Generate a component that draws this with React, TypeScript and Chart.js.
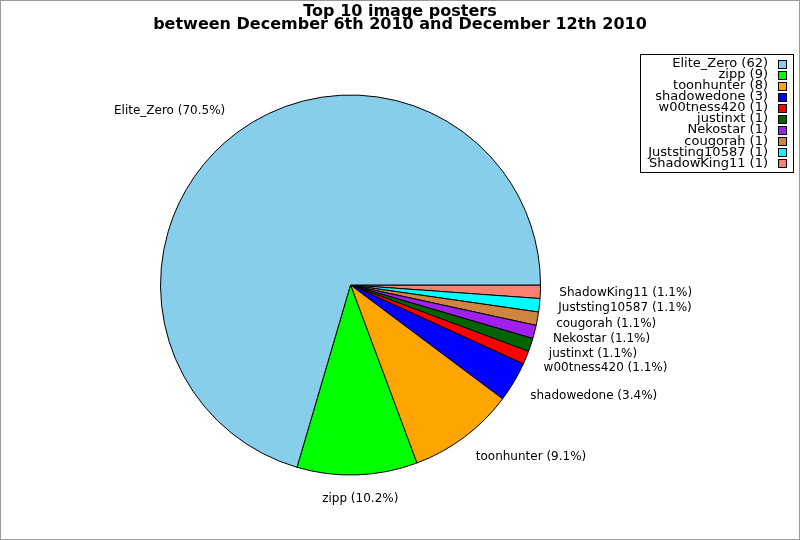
import { useEffect, useRef } from "react";
import { Chart, registerables } from "chart.js";

Chart.register(...registerables);

const TITLE_LINES = ["Top 10 image posters", "between December 6th 2010 and December 12th 2010"];
const posters = [
  "Elite_Zero",
  "zipp",
  "toonhunter",
  "shadowedone",
  "w00tness420",
  "justinxt",
  "Nekostar",
  "cougorah",
  "Juststing10587",
  "ShadowKing11",
];
const imageCounts = [62, 9, 8, 3, 1, 1, 1, 1, 1, 1];
const sliceColors = [
  "#87CEEB",
  "#00FF00",
  "#FFA500",
  "#0000FF",
  "#FF0000",
  "#006400",
  "#A020F0",
  "#CD853F",
  "#00FFFF",
  "#FA8072",
];

const FONT = '"DejaVu Sans", sans-serif';
const clamp = (v: number, lo: number, hi: number) => Math.max(lo, Math.min(hi, v));

export default function App() {
  const ref = useRef<HTMLCanvasElement | null>(null);

  useEffect(() => {
    const canvas = ref.current;
    if (!canvas) return;
    document.body.style.margin = "0";
    const total = imageCounts.reduce((a, b) => a + b, 0);
    // Chart.js draws clockwise; the reference runs counter-clockwise from 3 o'clock.
    const labelsRev = [...posters].reverse();
    const valuesRev = [...imageCounts].reverse();
    const colorsRev = [...sliceColors].reverse();

    const overlay = {
      id: "overlay",
      beforeDraw(chart: any) {
        const ctx = chart.ctx;
        ctx.save();
        ctx.fillStyle = "#ffffff";
        ctx.fillRect(0, 0, chart.width, chart.height);
        ctx.restore();
      },
      afterDraw(chart: any) {
        const ctx: CanvasRenderingContext2D = chart.ctx;
        ctx.save();
        // slice labels
        const meta = chart.getDatasetMeta(0);
        ctx.font = `12px ${FONT}`;
        ctx.fillStyle = "#000";
        ctx.textBaseline = "middle";
        ctx.textAlign = "left";
        meta.data.forEach((arc: any, i: number) => {
          const p = arc.getProps(["x", "y", "startAngle", "endAngle", "outerRadius"], true);
          const mid = (p.startAngle + p.endAngle) / 2;
          const R = p.outerRadius + 19;
          const xt = p.x + R * Math.cos(mid);
          const yt = p.y + R * Math.sin(mid);
          const text = `${labelsRev[i]} (${((valuesRev[i] / total) * 100).toFixed(1)}%)`;
          const w = ctx.measureText(text).width;
          const h = 14;
          const dx = clamp(0.5 - 0.85 * Math.cos(mid), 0, 1);
          const dy = clamp(0.5 - 0.6 * Math.sin(mid), 0.15, 1);
          ctx.fillText(text, xt - dx * w, yt - dy * h + h / 2);
        });

        // title
        ctx.font = `bold 16px ${FONT}`;
        ctx.textAlign = "center";
        ctx.textBaseline = "alphabetic";
        ctx.fillText(TITLE_LINES[0], 400, 15.5);
        ctx.fillText(TITLE_LINES[1], 400, 29);

        // legend
        const bx = 640, by = 54, bw = 153, bh = 118;
        ctx.fillStyle = "#fff";
        ctx.fillRect(bx, by, bw, bh);
        ctx.strokeStyle = "#000";
        ctx.lineWidth = 1;
        ctx.strokeRect(bx + 0.5, by + 0.5, bw, bh);
        ctx.font = `13px ${FONT}`;
        ctx.textAlign = "right";
        ctx.textBaseline = "middle";
        posters.forEach((name, i) => {
          const cy = 63.5 + i * 11.1;
          ctx.fillStyle = "#000";
          ctx.fillText(`${name} (${imageCounts[i]})`, 768, cy);
          const my = Math.round(cy - 4);
          ctx.fillStyle = sliceColors[i];
          ctx.fillRect(778, my, 8, 8);
          ctx.strokeStyle = "#000";
          ctx.strokeRect(778.5, my + 0.5, 8, 8);
        });

        // outer frame
        ctx.strokeStyle = "#999";
        ctx.strokeRect(0.5, 0.5, chart.width - 1, chart.height - 1);
        ctx.restore();
      },
    };

    const chart = new Chart(canvas, {
      type: "pie",
      data: {
        labels: labelsRev,
        datasets: [
          {
            data: valuesRev,
            backgroundColor: colorsRev,
            borderColor: "#000",
            borderWidth: 1,
          },
        ],
      },
      options: {
        responsive: false,
        animation: false,
        devicePixelRatio: 1,
        rotation: 90,
        radius: 190,
        layout: { padding: { left: 0, right: 99, top: 30, bottom: 0 } },
        plugins: {
          legend: { display: false },
          title: { display: false },
          tooltip: { enabled: false },
        },
        events: [],
      },
      plugins: [overlay],
    });
    return () => chart.destroy();
  }, []);

  return (
    <canvas
      ref={ref}
      width={800}
      height={540}
      style={{ display: "block", position: "absolute", left: 0, top: 0, width: 800, height: 540 }}
    />
  );
}
